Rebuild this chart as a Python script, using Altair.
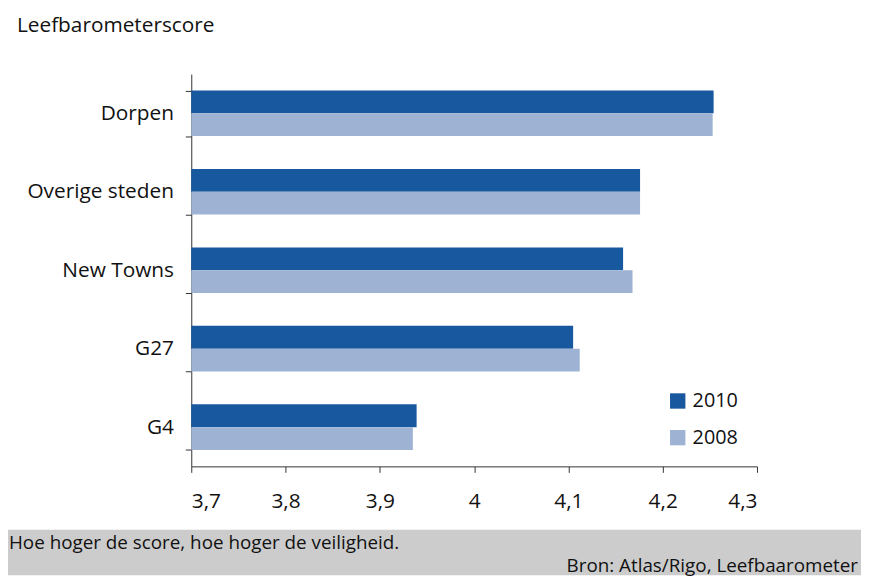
import altair as alt
import pandas as pd

categories = ["Dorpen", "Overige steden", "New Towns", "G27", "G4"]
years = ["2010", "2008"]
score_2010 = [4.254, 4.176, 4.158, 4.105, 3.939]
score_2008 = [4.253, 4.176, 4.168, 4.112, 3.935]
x_ticks = [3.7, 3.8, 3.9, 4.0, 4.1, 4.2, 4.3]
colors = ["#17589f", "#9eb3d3"]

title_text = "Leefbarometerscore"
note_text = "Hoe hoger de score, hoe hoger de veiligheid."
source_text = "Bron: Atlas/Rigo, Leefbaarometer"

rows = []
for c, a, b in zip(categories, score_2010, score_2008):
    rows.append({"cat": c, "year": "2010", "score": a})
    rows.append({"cat": c, "year": "2008", "score": b})
df = pd.DataFrame(rows)

FONT = "Open Sans"
W, H = 571, 396
PL, PT = 185, 64
TOTAL_W, TOTAL_H = 861, 570

bars = alt.Chart(df).mark_bar().encode(
    y=alt.Y("cat:N", sort=categories,
            scale=alt.Scale(paddingInner=0.418, paddingOuter=0.209),
            axis=alt.Axis(title=None, tickBand="extent", tickSize=6,
                          labelPadding=12, labelFontSize=21, labelFont=FONT,
                          labelColor="#111111", domainColor="#333333",
                          tickColor="#333333", labelLimit=300)),
    yOffset=alt.YOffset("year:N", sort=years, scale=alt.Scale(paddingInner=0, paddingOuter=0)),
    x=alt.X("score:Q", scale=alt.Scale(domain=[3.7, 4.3], zero=False, nice=False),
            axis=alt.Axis(title=None, values=x_ticks, grid=False, tickSize=6,
                          labelPadding=19, labelFontSize=21, labelFont=FONT,
                          labelColor="#111111", domainColor="#333333",
                          tickColor="#333333",
                          labelExpr="replace(format(datum.value, '.2~f'), '.', ',')")),
    x2=alt.datum(3.7),
    color=alt.Color("year:N", scale=alt.Scale(domain=years, range=colors),
                    legend=alt.Legend(orient="none", legendX=481, legendY=320,
                                      title=None, symbolType="square",
                                      symbolSize=240, symbolStrokeWidth=0,
                                      labelFontSize=20, labelFont=FONT,
                                      labelColor="#111111",
                                      labelOffset=5, rowPadding=17, padding=0)),
)

one = alt.Data(values=[{"k": 1}])

footer = alt.Chart(one).mark_rect(color="#cccccc").encode(
    x=alt.value(-PL), x2=alt.value(TOTAL_W - PL),
    y=alt.value(460), y2=alt.value(TOTAL_H - PT),
)

title = alt.Chart(one).mark_text(align="left", baseline="alphabetic",
                                 font=FONT, fontSize=21, color="#111111").encode(
    x=alt.value(-176), y=alt.value(-42), text=alt.value(title_text))

note = alt.Chart(one).mark_text(align="left", baseline="alphabetic",
                                font=FONT, fontSize=19, color="#111111").encode(
    x=alt.value(-184), y=alt.value(479), text=alt.value(note_text))

source = alt.Chart(one).mark_text(align="right", baseline="alphabetic",
                                  font=FONT, fontSize=19, color="#111111").encode(
    x=alt.value(TOTAL_W - PL - 3), y=alt.value(503), text=alt.value(source_text))

chart = alt.layer(footer, bars, title, note, source).properties(
    width=W, height=H,
    padding={"left": PL, "top": PT, "right": TOTAL_W - PL - W, "bottom": TOTAL_H - PT - H},
    autosize=alt.AutoSizeParams(type="none"),
    background="white",
).configure_view(stroke=None)

chart.save("out.html", embed_options={"renderer": "svg", "actions": False})
